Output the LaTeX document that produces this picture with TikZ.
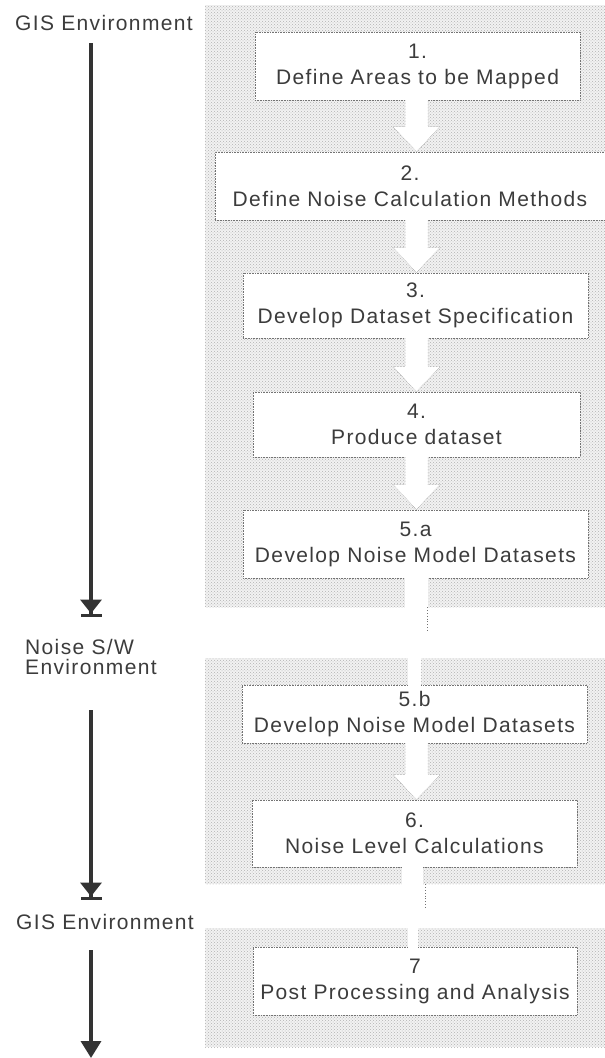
\documentclass[tikz,border=0pt]{standalone}
\usepackage{fontspec}
\setmainfont{Liberation Sans}[LetterSpace=6.5]
\usetikzlibrary{arrows.meta,patterns,calc}
\definecolor{txt}{HTML}{3C3C3C}
\definecolor{ink}{HTML}{333333}
\newcommand\blkarrow[2]{%
  \fill[white] let \p1=(#1.south), \p2=(#2.north) in
    (405pt,\y1+1pt) -- (405pt,\y2+25pt) -- (393pt,\y2+25pt) -- (416.5pt,\y2)
    -- (440pt,\y2+25pt) -- (428pt,\y2+25pt) -- (428pt,\y1+1pt) -- cycle;
  \draw[black!40, densely dotted, line width=0.5pt] let \p1=(#1.south), \p2=(#2.north) in
    (405pt,\y1) -- (405pt,\y2+25pt) -- (393pt,\y2+25pt) -- (416.5pt,\y2)
    -- (440pt,\y2+25pt) -- (428pt,\y2+25pt) -- (428pt,\y1);}
\newcommand\shaft[4]{% from node anchor #1 to node anchor #2, x range #3..#4
  \fill[white] let \p1=(#1), \p2=(#2) in (#3pt,\y1+1pt) rectangle (#4pt,\y2-1pt);}
\begin{document}
\begin{tikzpicture}[x=1pt,y=-1pt,
  font=\fontsize{21}{26}\selectfont, text=txt,
  panel/.style={draw=none, inner sep=0pt, anchor=north west,
    preaction={fill=black!5}, pattern=crosshatch dots, pattern color=black!30},
  box/.style={fill=white, draw=black!55, densely dotted, line width=0.6pt,
    align=center, inner sep=0pt},
  lbl/.style={inner sep=0pt, align=center},
  flow/.style={draw=ink, line width=3.5pt},
  conn/.style={draw=black!55, dotted, line width=0.8pt},
]
\useasboundingbox (0,0) rectangle (605,1058);

% panels
\node[panel, minimum width=400, minimum height=602] (p1) at (205,5) {};
\node[panel, minimum width=400, minimum height=226] (p2) at (205,658) {};
\node[panel, minimum width=400, minimum height=119] (p3) at (205,928) {};

% boxes
\node[box, minimum width=325, minimum height=68] (b1) at (417.5,66) {1.\\Define Areas to be Mapped};
\node[box, minimum width=390, minimum height=68] (b2) at (410,186) {2.\\Define Noise Calculation Methods};
\node[box, minimum width=345, minimum height=65] (b3) at (415.5,305.5) {3.\\Develop Dataset Specification};
\node[box, minimum width=327, minimum height=65] (b4) at (416.5,424.5) {4.\\Produce dataset};
\node[box, minimum width=345, minimum height=68] (b5a) at (415.5,544) {5.a\\Develop Noise Model Datasets};
\node[box, minimum width=345, minimum height=58] (b5b) at (414.5,714) {5.b\\Develop Noise Model Datasets};
\node[box, minimum width=325, minimum height=67] (b6) at (414.5,833.5) {6.\\Noise Level Calculations};
\node[box, minimum width=324, minimum height=68] (b7) at (415,981) {7\\Post Processing and Analysis};

% white block arrows
\blkarrow{b1}{b2}
\blkarrow{b2}{b3}
\blkarrow{b3}{b4}
\blkarrow{b4}{b5a}
\blkarrow{b5b}{b6}
\shaft{b5a.south}{p1.south}{405}{428}
\shaft{p2.north}{b5b.north}{408}{421}
\shaft{b6.south}{p2.south}{402}{423}
\shaft{p3.north}{b7.north}{408}{418}

% dotted links between panels
\coordinate (d1) at (427,632);
\coordinate (d2) at (425,908);
\draw[conn] (d1 |- p1.south) -- (d1);
\draw[conn] (d2 |- p2.south) -- (d2);

% left side labels
\node[lbl] (g1) at (104,23) {GIS Environment};
\node[lbl, align=left, anchor=west, font=\fontsize{21}{20}\selectfont] (ns) at (25,657) {Noise S/W\\Environment};
\node[lbl] (g2) at (105,922) {GIS Environment};

% left side arrows
\coordinate (a1s) at (91,43);  \coordinate (a1e) at (91,617);
\coordinate (a2s) at (91,710); \coordinate (a2e) at (91,900);
\coordinate (a3s) at (91,950); \coordinate (a3e) at (91,1058);
\draw[flow, -{Triangle[width=21pt,length=14pt,sep=0pt]Bar[width=21pt]}] (a1s) -- (a1e);
\draw[flow, -{Triangle[width=21pt,length=14pt,sep=0pt]Bar[width=21pt]}] (a2s) -- (a2e);
\draw[flow, -{Triangle[width=20pt,length=17pt]}] (a3s) -- (a3e);
\end{tikzpicture}
\end{document}
